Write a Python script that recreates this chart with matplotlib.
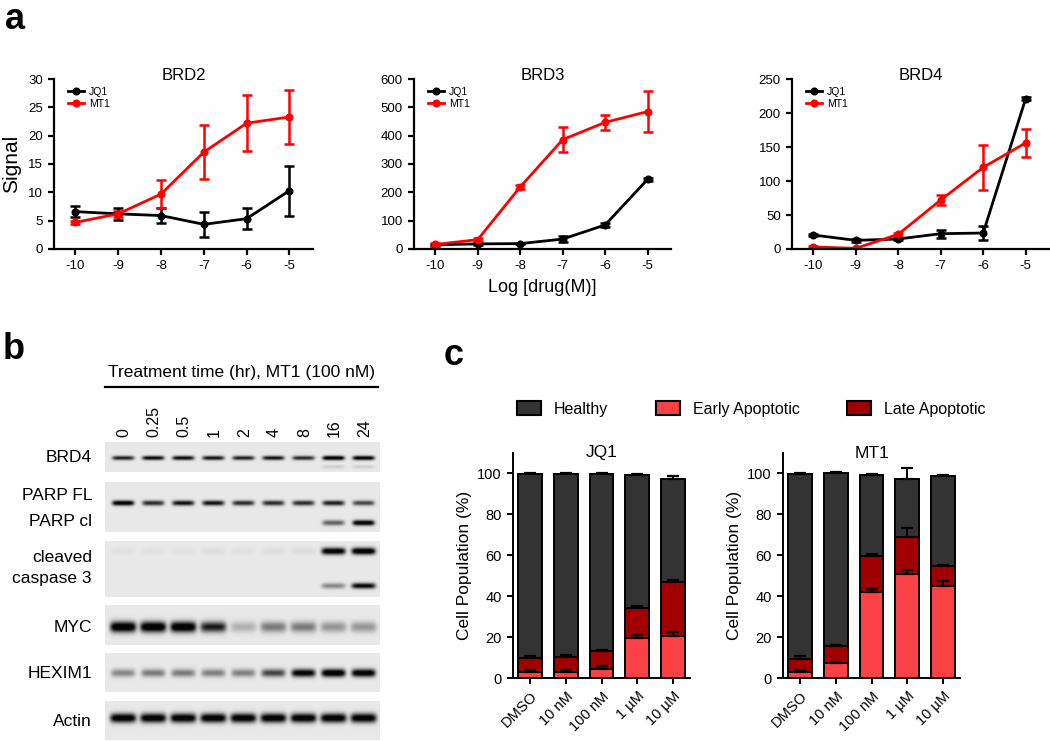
import numpy as np
import matplotlib
matplotlib.use("Agg")
import matplotlib.pyplot as plt
from matplotlib.patches import Patch
from matplotlib.lines import Line2D

plt.rcParams['font.family'] = ['Liberation Sans', 'DejaVu Sans']
plt.rcParams['axes.unicode_minus'] = False

# ---------------- data ----------------
log_conc = [-10, -9, -8, -7, -6, -5]
brd2_jq1 = [6.6, 6.2, 5.9, 4.35, 5.35, 10.3]
brd2_jq1_err = [0.9, 1.0, 1.3, 2.2, 1.8, 4.4]
brd2_mt1 = [4.7, 6.2, 9.7, 17.1, 22.2, 23.3]
brd2_mt1_err = [0.3, 0.5, 2.5, 4.8, 4.9, 4.7]
brd3_jq1 = [15, 18, 19, 35, 85, 246]
brd3_jq1_err = [3, 3, 3, 12, 6, 5]
brd3_mt1 = [16, 33, 219, 386, 447, 485]
brd3_mt1_err = [4, 5, 6, 43, 27, 72]
brd4_jq1 = [20.6, 12.7, 14.7, 22.5, 23.5, 221]
brd4_jq1_err = [2, 2, 2, 6, 11, 2]
brd4_mt1 = [3, 1, 21.5, 72, 120, 156]
brd4_mt1_err = [1, 1, 2, 8, 33, 20]

lane_labels = ['0', '0.25', '0.5', '1', '2', '4', '8', '16', '24']
brd4_band = [0.75, 0.85, 0.85, 0.8, 0.75, 0.8, 0.72, 1.0, 0.95]
brd4_lower_band = [0, 0, 0, 0, 0, 0, 0, 0.1, 0.1]
parp_fl_band = [0.95, 0.7, 0.8, 0.8, 0.7, 0.7, 0.7, 0.75, 0.6]
parp_cl_band = [0, 0, 0, 0, 0, 0, 0, 0.5, 0.95]
casp3_upper_band = [0.03, 0.03, 0.03, 0.04, 0.03, 0.04, 0.05, 0.95, 1.0]
casp3_lower_band = [0, 0, 0, 0, 0, 0, 0, 0.35, 0.85]
myc_band = [1.0, 1.0, 1.0, 0.75, 0.2, 0.4, 0.4, 0.3, 0.3]
hexim1_band = [0.35, 0.4, 0.4, 0.38, 0.38, 0.6, 0.9, 1.0, 0.95]
actin_band = [0.95, 0.95, 0.95, 0.95, 0.95, 0.95, 0.95, 0.95, 0.95]

treatments = ['DMSO', '10 nM', '100 nM', '1 µM', '10 µM']
jq1_early = [3.0, 3.0, 4.6, 19.4, 20.6]
jq1_late = [6.9, 7.4, 8.6, 14.8, 26.4]
jq1_healthy = [89.8, 89.3, 86.5, 65.0, 50.2]
jq1_early_err = [0.8, 0.8, 1.2, 1.6, 2.1]
jq1_late_err = [1.0, 0.8, 0.5, 0.8, 0.8]
jq1_healthy_err = [0.3, 0.5, 0.3, 0.3, 1.6]
mt1_early = [3.0, 7.1, 41.9, 51.0, 45.2]
mt1_late = [6.5, 8.5, 17.8, 17.8, 9.6]
mt1_healthy = [90.2, 84.6, 39.5, 28.7, 43.9]
mt1_early_err = [1.0, 0.5, 1.4, 2.0, 2.2]
mt1_late_err = [1.2, 0.5, 0.7, 4.4, 0.6]
mt1_healthy_err = [0.3, 0.5, 0.3, 5.3, 0.5]

# ---------------- layout helpers ----------------
W, H = 1050, 741
fig = plt.figure(figsize=(W / 100, H / 100), dpi=100)


def rect(x0, y0, x1, y1):
    return [x0 / W, 1 - y1 / H, (x1 - x0) / W, (y1 - y0) / H]


def style_axes(ax, lw=1.6):
    for s in ['top', 'right']:
        ax.spines[s].set_visible(False)
    for s in ['left', 'bottom']:
        ax.spines[s].set_linewidth(lw)
    ax.tick_params(width=lw, length=4.5, direction='out', colors='black')


# ---------------- panel a ----------------
panel_a = [
    ('BRD2', brd2_jq1, brd2_jq1_err, brd2_mt1, brd2_mt1_err, 30, 5, (54, 313)),
    ('BRD3', brd3_jq1, brd3_jq1_err, brd3_mt1, brd3_mt1_err, 600, 100, (414, 671)),
    ('BRD4', brd4_jq1, brd4_jq1_err, brd4_mt1, brd4_mt1_err, 250, 50, (792, 1049)),
]
for name, jq, jqe, mt, mte, ymax, ystep, (x0, x1) in panel_a:
    ax = fig.add_axes(rect(x0, 79, x1, 249))
    ax.errorbar(log_conc, jq, yerr=jqe, color='black', marker='o', ms=4.8,
                lw=2.0, elinewidth=1.8, capsize=3.5, capthick=1.8)
    ax.errorbar(log_conc, mt, yerr=mte, color='#ff0000', marker='o', ms=4.8,
                lw=2.0, elinewidth=1.8, capsize=3.5, capthick=1.8)
    ax.set_xlim(-10.5, -4.45)
    ax.set_ylim(0, ymax)
    ax.set_xticks(log_conc)
    ax.set_yticks(np.arange(0, ymax + 1, ystep))
    ax.tick_params(labelsize=9.5)
    style_axes(ax)
    ax.text(0.5, 1.02, name, transform=ax.transAxes, ha='center', va='center',
            fontsize=12)
    leg_handles = [Line2D([], [], color='black', marker='o', ms=4.8, lw=2.0),
                   Line2D([], [], color='#ff0000', marker='o', ms=4.8, lw=2.0)]
    ax.legend(leg_handles, ['JQ1', 'MT1'], loc='upper left',
              bbox_to_anchor=(0.055, 0.955), frameon=False,
              fontsize=7.5, handlelength=1.5, handletextpad=0.5,
              labelspacing=0.2, borderpad=0, borderaxespad=0)
    if name == 'BRD2':
        ax.set_ylabel('Signal', fontsize=15, labelpad=5)
    if name == 'BRD3':
        ax.set_xlabel('Log [drug(M)]', fontsize=13, labelpad=5)

# ---------------- overlay for panel b and letters ----------------
ov = fig.add_axes([0, 0, 1, 1], zorder=-1)
ov.set_xlim(0, W)
ov.set_ylim(H, 0)
ov.axis('off')

fig.text(5 / W, 1 - 2 / H, 'a', fontsize=26, fontweight='bold', va='top')
fig.text(3 / W, 1 - 332 / H, 'b', fontsize=26, fontweight='bold', va='top')
fig.text(444 / W, 1 - 338 / H, 'c', fontsize=26, fontweight='bold', va='top')

# blot
strip_x0, strip_x1 = 105, 380
lane_x = [123 + 30.1 * i for i in range(len(lane_labels))]

ov.text(242, 372, 'Treatment time (hr), MT1 (100 nM)', ha='center', va='center',
        fontsize=12.5)
ov.plot([105, 378], [387, 387], color='black', lw=1.6)
for lx, lab in zip(lane_x, lane_labels):
    ov.text(lx + 1, 437, lab, rotation=90, ha='center', va='bottom', fontsize=11.5)

# strips: (y0, y1, [(band intensities, y center, sigma_y, half width)], labels)
strips = [
    (442, 472, [(brd4_band, 458, 1.5, 11), (brd4_lower_band, 467, 1.2, 11)], [('BRD4', 457)]),
    (482, 532, [(parp_fl_band, 503, 1.8, 11), (parp_cl_band, 523, 1.9, 11)],
     [('PARP FL', 496), ('PARP cl', 521)]),
    (541, 597, [(casp3_upper_band, 551, 2.4, 12), (casp3_lower_band, 586, 2.0, 12)],
     [('cleaved', 557), ('caspase 3', 579)]),
    (605, 645, [(myc_band, 627, 3.8, 13)], [('MYC', 627)]),
    (653, 692, [(hexim1_band, 673, 2.8, 12)], [('HEXIM1', 673)]),
    (701, 740, [(actin_band, 718, 3.3, 13)], [('Actin', 722)]),
]
bg = 0.91
for y0, y1, bands, labels in strips:
    sc = 2
    ys = np.linspace(y0, y1, (y1 - y0) * sc)
    xs = np.linspace(strip_x0, strip_x1, (strip_x1 - strip_x0) * sc)
    X, Y = np.meshgrid(xs, ys)
    dark = np.zeros_like(X)
    for vals, yc, sy, hw in bands:
        for lx, v in zip(lane_x, vals):
            dark += v * 1.2 * np.exp(-((X - lx) / hw) ** 6) * np.exp(-0.5 * ((Y - yc) / sy) ** 2)
    img = bg * (1 - np.clip(dark, 0, 0.97))
    ov.imshow(img, cmap='gray', vmin=0, vmax=1, extent=[strip_x0, strip_x1, y1, y0],
              aspect='auto', interpolation='bilinear')
    for txt, ty in labels:
        ov.text(92, ty, txt, ha='right', va='center', fontsize=12.5)
ov.set_xlim(0, W)
ov.set_ylim(H, 0)

# ---------------- panel c ----------------
c_early = '#fa4146'
c_late = '#a00000'
c_healthy = '#333333'
xpos = np.arange(len(treatments))
panel_c = [
    ('JQ1', jq1_early, jq1_late, jq1_healthy, jq1_early_err, jq1_late_err, jq1_healthy_err, 513, 690),
    ('MT1', mt1_early, mt1_late, mt1_healthy, mt1_early_err, mt1_late_err, mt1_healthy_err, 783, 960),
]
for name, e, l, h, ee, le, he, x0, x1 in panel_c:
    ax = fig.add_axes(rect(x0, 453, x1, 678))
    e = np.array(e); l = np.array(l); h = np.array(h)
    kw = dict(width=0.66, edgecolor='black', linewidth=1.4)
    ax.bar(xpos, e, color=c_early, **kw)
    ax.bar(xpos, l, bottom=e, color=c_late, **kw)
    ax.bar(xpos, h, bottom=e + l, color=c_healthy, **kw)
    zeros = np.zeros(len(xpos))
    ekw = dict(fmt='none', ecolor='black', elinewidth=1.4, capsize=4.5, capthick=1.6)
    ax.errorbar(xpos, e, yerr=[zeros, ee], **ekw)
    ax.errorbar(xpos, e + l, yerr=[zeros, le], **ekw)
    ax.errorbar(xpos, e + l + h, yerr=[zeros, he], **ekw)
    ax.set_xlim(-0.48, 4.48)
    ax.set_ylim(0, 110)
    ax.set_yticks(np.arange(0, 101, 20))
    ax.set_xticks(xpos)
    ax.set_xticklabels(treatments, rotation=45, ha='right', va='top',
                       rotation_mode='anchor', fontsize=10.5)
    ax.tick_params(axis='y', labelsize=10.5)
    style_axes(ax, lw=1.4)
    ax.text(0.5, 1.0, name, transform=ax.transAxes, ha='center', va='center',
            fontsize=12.5)
    ax.set_ylabel('Cell Population (%)', fontsize=12.5, labelpad=4)

handles = [Patch(facecolor=c_healthy, edgecolor='black', linewidth=1.5),
           Patch(facecolor=c_early, edgecolor='black', linewidth=1.5),
           Patch(facecolor=c_late, edgecolor='black', linewidth=1.5)]
fig.legend(handles, ['Healthy', 'Early Apoptotic', 'Late Apoptotic'],
           loc='center left', bbox_to_anchor=(517 / W, 1 - 409 / H), ncol=3,
           frameon=False, fontsize=11.5, handlelength=1.5, handleheight=0.9,
           handletextpad=0.8, columnspacing=3.0, borderpad=0, borderaxespad=0)

fig.savefig('out.png', dpi=100)
